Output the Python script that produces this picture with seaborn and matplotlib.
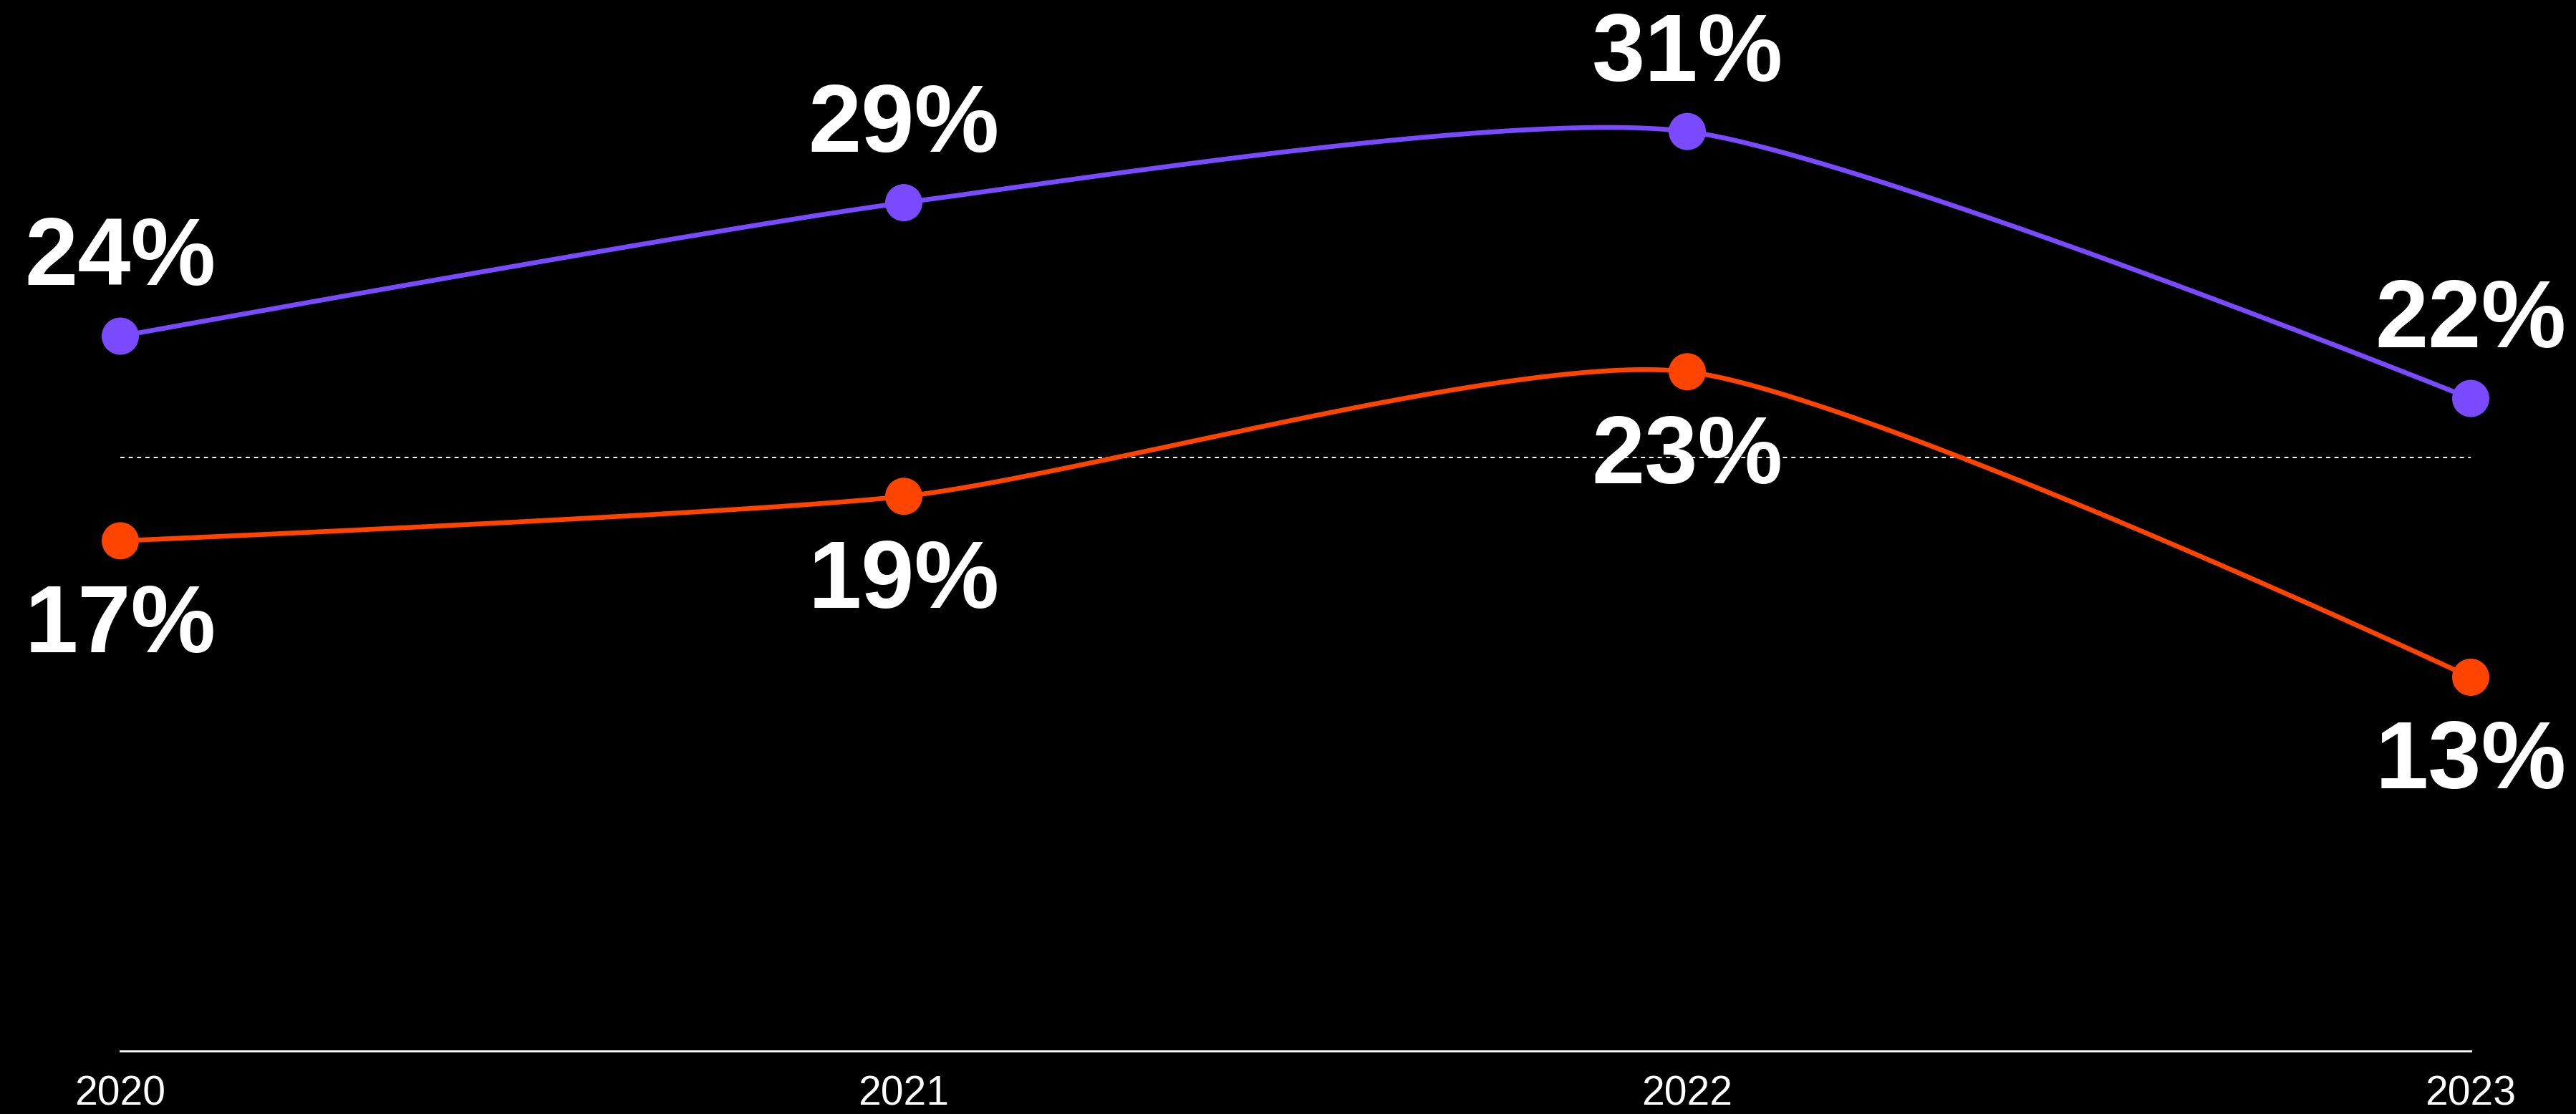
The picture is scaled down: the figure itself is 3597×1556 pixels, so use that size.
import numpy as np
import pandas as pd
import matplotlib
matplotlib.use("Agg")
import matplotlib.pyplot as plt
import seaborn as sns

# ---- data ----
years = [2020, 2021, 2022, 2023]
purple_values = [24.1, 28.6, 31.0, 22.0]
orange_values = [17.2, 18.7, 22.9, 12.6]
series_names = ["A", "B"]
reference_level = 20
tick_labels = ["2020", "2021", "2022", "2023"]

PURPLE = "#7A4AFF"
ORANGE = "#FF4400"


def cardinal_curve(x, y, tension=0.0, n_per_seg=150):
    """Cardinal spline through the points (d3.curveCardinal style)."""
    P = np.column_stack([np.asarray(x, float), np.asarray(y, float)])
    k = (1 - tension) / 6.0
    n = len(P)
    out = []
    for i in range(n - 1):
        p0, p1 = P[i], P[i + 1]
        prev = P[i - 1] if i > 0 else None
        nxt = P[i + 2] if i + 2 < n else None
        c1 = p0 + k * (p1 - prev) if prev is not None else p0.copy()
        c2 = p1 - k * (nxt - p0) if nxt is not None else p1.copy()
        t = np.linspace(0, 1, n_per_seg, endpoint=(i == n - 2))[:, None]
        seg = ((1 - t) ** 3 * p0 + 3 * (1 - t) ** 2 * t * c1
               + 3 * (1 - t) * t ** 2 * c2 + t ** 3 * p1)
        out.append(seg)
    out = np.vstack(out)
    return out[:, 0], out[:, 1]


sns.set_theme(style="white")
plt.rcParams["font.family"] = ["Liberation Sans", "DejaVu Sans"]

W, H, DPI = 3597, 1556, 100
fig = plt.figure(figsize=(W / DPI, H / DPI), dpi=DPI, facecolor="black")
ax = fig.add_axes([0, 88 / H, 1, 1468 / H])
ax.set_facecolor("black")

px_per_year = (3450 - 168) / 3
ax.set_xlim(2020 - 168 / px_per_year, 2023 + (W - 3450) / px_per_year)
ax.set_ylim(0, 1468 / 41.43)

# reference dotted line
ax.plot([years[0], years[-1]], [reference_level, reference_level],
        color="white", lw=1.4, ls=(0, (3, 3)), zorder=1)

curves = []
for name, vals in zip(series_names, [purple_values, orange_values]):
    xs, ys = cardinal_curve(years, vals, tension=0.34)
    curves.append(pd.DataFrame({"x": xs, "y": ys, "s": name}))
curve_df = pd.concat(curves)
pts_df = pd.DataFrame({
    "x": years * 2,
    "y": purple_values + orange_values,
    "s": [series_names[0]] * 4 + [series_names[1]] * 4,
})
palette = {series_names[0]: PURPLE, series_names[1]: ORANGE}

sns.lineplot(data=curve_df, x="x", y="y", hue="s", palette=palette,
             linewidth=4.8, legend=False, ax=ax, zorder=2, sort=False,
             estimator=None)
sns.scatterplot(data=pts_df, x="x", y="y", hue="s", palette=palette,
                s=1400, linewidth=0, legend=False, ax=ax, zorder=3)

# value labels
for yr, v in zip(years, purple_values):
    ax.annotate(f"{round(v)}%", (yr, v), xytext=(0, 76), textcoords="offset points",
                ha="center", va="center", color="white", fontsize=96,
                fontweight="bold", annotation_clip=False)
for yr, v in zip(years, orange_values):
    ax.annotate(f"{round(v)}%", (yr, v), xytext=(0, -87), textcoords="offset points",
                ha="center", va="center", color="white", fontsize=96,
                fontweight="bold", annotation_clip=False)

for s in ["top", "left", "right"]:
    ax.spines[s].set_visible(False)
ax.spines["bottom"].set_color("white")
ax.spines["bottom"].set_linewidth(2)
ax.spines["bottom"].set_bounds(years[0], years[-1])

ax.set_xticks(years)
ax.set_xticklabels(tick_labels)
ax.tick_params(axis="x", length=0, pad=24, labelsize=41, labelcolor="white")
ax.set_yticks([])
ax.set_xlabel("")
ax.set_ylabel("")

fig.savefig("out.png", dpi=DPI, facecolor="black")
